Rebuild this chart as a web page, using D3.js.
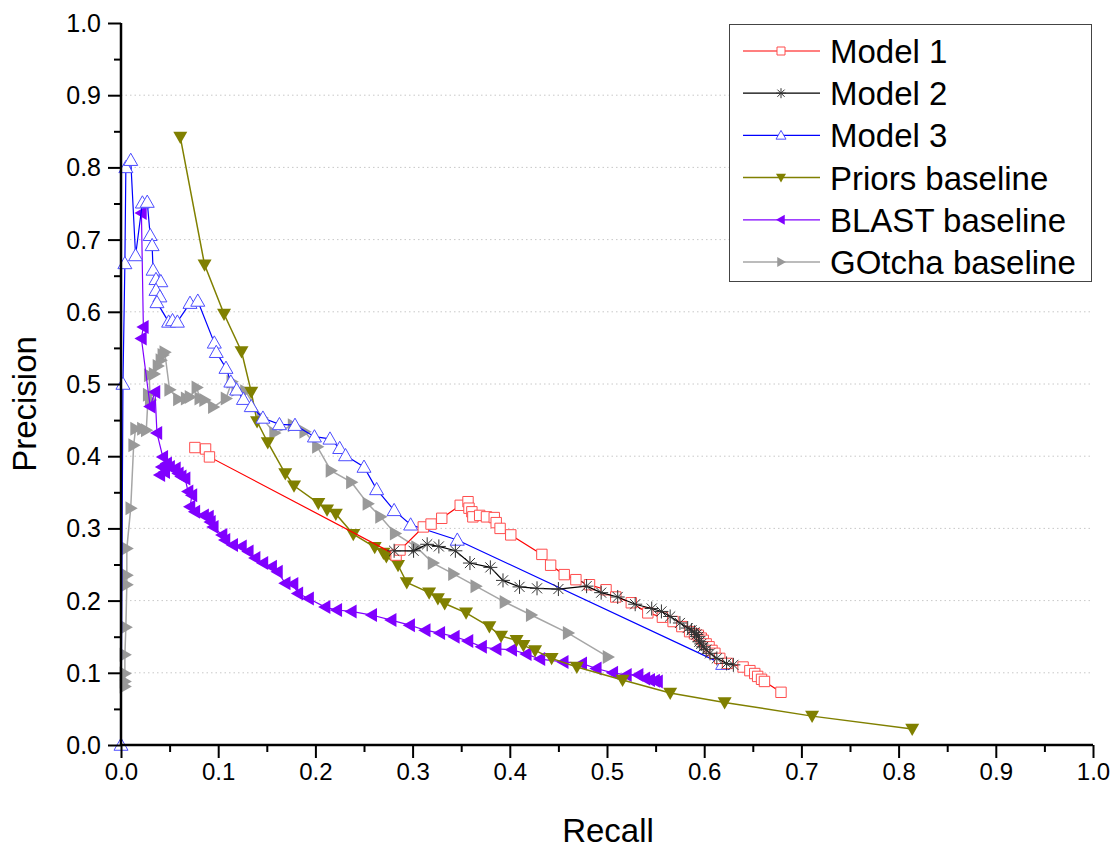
<!DOCTYPE html>
<html><head><meta charset="utf-8">
<script src="https://cdn.jsdelivr.net/npm/d3@7"></script>
<style>body{margin:0;background:#fff}</style></head>
<body>
<svg id="c" width="1114" height="848"></svg>
<script>
// ---- DATA (recall, precision) ----
const model1 = [[0.076,0.412],[0.087,0.410],[0.091,0.399],[0.283,0.263],[0.287,0.270],[0.311,0.302],[0.319,0.306],[0.330,0.314],[0.349,0.332],[0.357,0.337],[0.358,0.328],[0.361,0.323],[0.362,0.316],[0.369,0.318],[0.376,0.316],[0.384,0.315],[0.386,0.308],[0.390,0.300],[0.401,0.291],[0.433,0.264],[0.442,0.249],[0.456,0.236],[0.468,0.229],[0.482,0.222],[0.499,0.215],[0.509,0.205],[0.525,0.197],[0.542,0.183],[0.557,0.177],[0.568,0.171],[0.577,0.164],[0.585,0.157],[0.590,0.154],[0.594,0.152],[0.597,0.148],[0.599,0.145],[0.602,0.140],[0.605,0.136],[0.608,0.131],[0.611,0.127],[0.616,0.120],[0.624,0.113],[0.640,0.108],[0.647,0.103],[0.652,0.099],[0.655,0.095],[0.659,0.091],[0.662,0.088],[0.679,0.073]];
const model2 = [[0.281,0.269],[0.301,0.269],[0.315,0.278],[0.327,0.275],[0.344,0.269],[0.359,0.252],[0.380,0.246],[0.393,0.228],[0.410,0.219],[0.428,0.217],[0.450,0.216],[0.479,0.220],[0.494,0.211],[0.511,0.205],[0.529,0.195],[0.546,0.189],[0.556,0.185],[0.565,0.178],[0.575,0.169],[0.583,0.162],[0.587,0.159],[0.590,0.156],[0.592,0.153],[0.594,0.150],[0.595,0.143],[0.597,0.140],[0.599,0.136],[0.602,0.132],[0.606,0.127],[0.613,0.120],[0.623,0.113],[0.630,0.111]];
const model3 = [[0.000,0.000],[0.002,0.500],[0.004,0.667],[0.005,0.800],[0.010,0.810],[0.015,0.678],[0.022,0.751],[0.027,0.752],[0.030,0.706],[0.032,0.692],[0.033,0.658],[0.036,0.645],[0.041,0.642],[0.036,0.630],[0.040,0.621],[0.037,0.613],[0.049,0.586],[0.053,0.588],[0.058,0.586],[0.071,0.612],[0.079,0.615],[0.096,0.557],[0.098,0.544],[0.108,0.522],[0.113,0.503],[0.119,0.492],[0.126,0.479],[0.134,0.469],[0.146,0.453],[0.163,0.444],[0.179,0.443],[0.199,0.427],[0.215,0.424],[0.225,0.411],[0.231,0.401],[0.250,0.385],[0.263,0.354],[0.281,0.325],[0.298,0.305],[0.346,0.284],[0.619,0.112]];
const priors = [[0.061,0.842],[0.086,0.665],[0.106,0.597],[0.124,0.545],[0.134,0.489],[0.140,0.448],[0.151,0.419],[0.169,0.376],[0.178,0.359],[0.203,0.335],[0.212,0.326],[0.221,0.320],[0.239,0.292],[0.261,0.274],[0.270,0.266],[0.273,0.261],[0.285,0.249],[0.294,0.225],[0.317,0.211],[0.326,0.203],[0.333,0.196],[0.355,0.183],[0.379,0.164],[0.391,0.151],[0.407,0.145],[0.414,0.138],[0.426,0.131],[0.443,0.120],[0.469,0.108],[0.516,0.090],[0.565,0.072],[0.621,0.059],[0.711,0.040],[0.814,0.022]];
const blast = [[0.021,0.737],[0.023,0.579],[0.021,0.563],[0.030,0.469],[0.035,0.489],[0.037,0.432],[0.043,0.399],[0.047,0.390],[0.042,0.385],[0.045,0.378],[0.040,0.374],[0.050,0.385],[0.056,0.383],[0.059,0.376],[0.062,0.372],[0.066,0.369],[0.069,0.351],[0.073,0.346],[0.071,0.330],[0.076,0.323],[0.085,0.318],[0.090,0.316],[0.092,0.309],[0.095,0.302],[0.104,0.291],[0.107,0.284],[0.115,0.277],[0.124,0.275],[0.131,0.268],[0.138,0.259],[0.146,0.252],[0.155,0.247],[0.161,0.240],[0.169,0.224],[0.177,0.223],[0.182,0.210],[0.193,0.203],[0.210,0.191],[0.222,0.187],[0.237,0.185],[0.258,0.180],[0.278,0.173],[0.297,0.166],[0.313,0.159],[0.328,0.155],[0.343,0.150],[0.357,0.144],[0.371,0.136],[0.386,0.133],[0.402,0.132],[0.417,0.126],[0.431,0.119],[0.455,0.115],[0.474,0.113],[0.489,0.106],[0.506,0.100],[0.520,0.097],[0.532,0.097],[0.539,0.092],[0.544,0.090],[0.549,0.089],[0.552,0.088]];
const gotcha = [[0.004,0.081],[0.004,0.088],[0.004,0.099],[0.004,0.125],[0.005,0.163],[0.006,0.222],[0.006,0.235],[0.006,0.272],[0.010,0.328],[0.013,0.415],[0.015,0.438],[0.022,0.438],[0.026,0.436],[0.028,0.485],[0.030,0.478],[0.029,0.512],[0.034,0.514],[0.038,0.525],[0.041,0.533],[0.043,0.540],[0.045,0.544],[0.050,0.492],[0.059,0.479],[0.067,0.480],[0.071,0.482],[0.078,0.495],[0.081,0.480],[0.086,0.478],[0.095,0.468],[0.108,0.480],[0.114,0.503],[0.119,0.492],[0.128,0.490],[0.145,0.453],[0.158,0.432],[0.177,0.443],[0.189,0.434],[0.202,0.413],[0.216,0.380],[0.237,0.364],[0.254,0.334],[0.267,0.316],[0.282,0.293],[0.304,0.274],[0.321,0.252],[0.342,0.237],[0.365,0.220],[0.395,0.198],[0.422,0.180],[0.460,0.155],[0.501,0.122]];

const seriesNames = ["Model 1","Model 2","Model 3","Priors baseline","BLAST baseline","GOtcha baseline"];
const majorTicks = [0,0.1,0.2,0.3,0.4,0.5,0.6,0.7,0.8,0.9,1.0];
const minorTicks = [0.05,0.15,0.25,0.35,0.45,0.55,0.65,0.75,0.85,0.95];
const gridTicks = [0.1,0.2,0.3,0.4,0.5,0.6,0.7,0.8,0.9];

// ---- STYLE ----
const styles = {
  "Model 1":        {data:model1, line:"#ff0000", lw:1.2, mk:"square", mstroke:"#ff4d4d", mfill:"#fff"},
  "Model 2":        {data:model2, line:"#000000", lw:1.2, mk:"star",   mstroke:"#333333", mfill:"none"},
  "Model 3":        {data:model3, line:"#0000ff", lw:1.2, mk:"up",     mstroke:"#4d4dff", mfill:"#fff"},
  "Priors baseline":{data:priors, line:"#808000", lw:1.5, mk:"down",   mstroke:"none",    mfill:"#808000"},
  "BLAST baseline": {data:blast,  line:"#8000ff", lw:1.2, mk:"left",   mstroke:"none",    mfill:"#8000ff"},
  "GOtcha baseline":{data:gotcha, line:"#a6a6a6", lw:1.5, mk:"right",  mstroke:"none",    mfill:"#999999"}
};
const drawOrder = ["GOtcha baseline","BLAST baseline","Priors baseline","Model 3","Model 1","Model 2"];

const svg = d3.select("#c");
const x = d3.scaleLinear().domain([0,1]).range([121,1093]);
const y = d3.scaleLinear().domain([0,1]).range([745,23]);
const FONT = "'Liberation Sans', Arial, sans-serif";

function markerPath(type, s){
  const h = s/2;
  switch(type){
    case "square": return `M${-h*0.8},${-h*0.8}h${s*0.8}v${s*0.8}h${-s*0.8}z`;
    case "up":    return `M0,${-h}L${h},${h*0.75}L${-h},${h*0.75}Z`;
    case "down":  return `M0,${h}L${h},${-h*0.75}L${-h},${-h*0.75}Z`;
    case "left":  return `M${-h},0L${h*0.75},${-h}L${h*0.75},${h}Z`;
    case "right": return `M${h},0L${-h*0.75},${-h}L${-h*0.75},${h}Z`;
    case "star": {
      const d = h*0.72;
      return `M${-h},0H${h}M0,${-h}V${h}M${-d},${-d}L${d},${d}M${-d},${d}L${d},${-d}`;
    }
  }
}

// gridlines
svg.append("g").selectAll("line").data(gridTicks).join("line")
  .attr("x1",x(0)).attr("x2",x(1)).attr("y1",d=>y(d)).attr("y2",d=>y(d))
  .attr("stroke","#c8c8c8").attr("stroke-width",1).attr("stroke-dasharray","1.5,3");

// series
const lineGen = d3.line().x(d=>x(d[0])).y(d=>y(d[1]));
drawOrder.forEach(name=>{
  const st = styles[name];
  const g = svg.append("g");
  g.append("path").attr("d",lineGen(st.data)).attr("fill","none")
    .attr("stroke",st.line).attr("stroke-width",st.lw);
  const size = st.mk==="square" ? 13 : 14;
  g.selectAll("path.m").data(st.data).join("path").attr("class","m")
    .attr("transform",d=>`translate(${x(d[0])},${y(d[1])})`)
    .attr("d",markerPath(st.mk,size))
    .attr("fill",st.mfill).attr("stroke",st.mstroke).attr("stroke-width",1);
});

// axes
const xAxis = svg.append("g").attr("transform","translate(0,745)")
  .call(d3.axisBottom(x).tickValues(majorTicks).tickSize(13).tickFormat(d3.format(".1f")));
svg.append("g").attr("transform","translate(0,745)")
  .call(d3.axisBottom(x).tickValues(minorTicks).tickSize(7).tickFormat(""))
  .call(g=>g.select(".domain").remove());
const yAxis = svg.append("g").attr("transform","translate(121,0)")
  .call(d3.axisLeft(y).tickValues(majorTicks).tickSize(13).tickFormat(d3.format(".1f")));
svg.append("g").attr("transform","translate(121,0)")
  .call(d3.axisLeft(y).tickValues(minorTicks).tickSize(7).tickFormat(""))
  .call(g=>g.select(".domain").remove());
svg.selectAll(".domain").remove();
svg.selectAll(".tick line").attr("stroke","#000").attr("stroke-width",2);
xAxis.selectAll(".tick text").attr("font-family",FONT).attr("font-size",24).attr("fill","#000")
  .attr("y",18).attr("dy","0.71em");
yAxis.selectAll(".tick text").attr("font-family",FONT).attr("font-size",25).attr("fill","#000")
  .attr("x",-20).attr("dy","0.34em");
svg.append("line").attr("x1",x(0)).attr("x2",x(1)).attr("y1",745).attr("y2",745)
  .attr("stroke","#000").attr("stroke-width",2.5);
svg.append("line").attr("x1",121).attr("x2",121).attr("y1",y(0)+1).attr("y2",y(1))
  .attr("stroke","#000").attr("stroke-width",2.5);

// axis titles
svg.append("text").attr("x",608).attr("y",842).attr("text-anchor","middle")
  .attr("font-family",FONT).attr("font-size",33).text("Recall");
svg.append("text").attr("transform","translate(36,404) rotate(-90)").attr("text-anchor","middle")
  .attr("font-family",FONT).attr("font-size",33).text("Precision");

// legend
const lg = svg.append("g");
lg.append("rect").attr("x",729.5).attr("y",24.5).attr("width",362).attr("height",257)
  .attr("fill","#fff").attr("stroke","#444").attr("stroke-width",1);
seriesNames.forEach((name,i)=>{
  const st = styles[name];
  const cy = 51 + i*42.2;
  lg.append("line").attr("x1",743).attr("x2",820).attr("y1",cy).attr("y2",cy)
    .attr("stroke",st.line).attr("stroke-width",st.lw);
  lg.append("path").attr("transform",`translate(781,${cy})`)
    .attr("d",markerPath(st.mk, 10))
    .attr("fill",st.mfill).attr("stroke",st.mstroke).attr("stroke-width",1);
  lg.append("text").attr("x",830).attr("y",cy+12).attr("font-family",FONT)
    .attr("font-size",33).attr("fill","#000").text(name);
});
</script>
</body></html>
